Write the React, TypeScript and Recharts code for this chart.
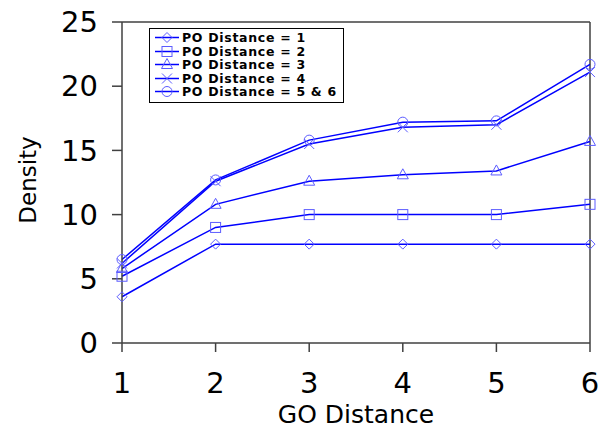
import React from 'react';
import {
  LineChart,
  Line,
  XAxis,
  YAxis,
  Legend,
  ReferenceLine,
} from 'recharts';

const goDistance = [1, 2, 3, 4, 5, 6];
const po1 = [3.6, 7.7, 7.7, 7.7, 7.7, 7.7];
const po2 = [5.2, 9.0, 10.0, 10.0, 10.0, 10.8];
const po3 = [5.8, 10.8, 12.6, 13.1, 13.4, 15.7];
const po4 = [6.2, 12.6, 15.5, 16.8, 17.0, 21.1];
const po56 = [6.5, 12.7, 15.8, 17.2, 17.3, 21.7];
const yTicks = [0, 5, 10, 15, 20, 25];

const seriesNames = [
  'PO Distance = 1',
  'PO Distance = 2',
  'PO Distance = 3',
  'PO Distance = 4',
  'PO Distance = 5 & 6',
];
const seriesKeys = ['po1', 'po2', 'po3', 'po4', 'po56'];
const shapes = ['diamond', 'square', 'triangle', 'cross', 'circle'];

const data = goDistance.map((go, i) => ({
  go,
  po1: po1[i],
  po2: po2[i],
  po3: po3[i],
  po4: po4[i],
  po56: po56[i],
}));

const LINE = '#0000ff';
const MARK = '#5c5cff';
const AXIS = '#404040';
const FONT = '"DejaVu Sans", sans-serif';

function Marker({ shape, cx, cy }: { shape: string; cx: number; cy: number }) {
  const p = { fill: 'none', stroke: MARK, strokeWidth: 1 };
  switch (shape) {
    case 'diamond':
      return <path d={`M${cx - 5},${cy} L${cx},${cy - 5} L${cx + 5},${cy} L${cx},${cy + 5} Z`} {...p} />;
    case 'square':
      return <rect x={cx - 5} y={cy - 5} width={10} height={10} {...p} />;
    case 'triangle':
      return <path d={`M${cx - 5.5},${cy + 4} L${cx},${cy - 6} L${cx + 5.5},${cy + 4} Z`} {...p} />;
    case 'cross':
      return <path d={`M${cx - 5},${cy - 5} L${cx + 5},${cy + 5} M${cx - 5},${cy + 5} L${cx + 5},${cy - 5}`} {...p} />;
    default:
      return <circle cx={cx} cy={cy} r={5} {...p} />;
  }
}

function makeDot(shape: string) {
  return (props: any) => (
    <Marker key={`${shape}-${props.index}`} shape={shape} cx={props.cx} cy={props.cy} />
  );
}

function LegendBox() {
  return (
    <div
      style={{
        border: '1.5px solid #000',
        background: '#fff',
        padding: '2px 6px 3px 4px',
        fontFamily: FONT,
        fontWeight: 'bold',
        fontSize: 12.5,
        lineHeight: '13.5px',
        letterSpacing: 0.7,
      }}
    >
      {seriesNames.map((name, i) => (
        <div key={name} style={{ display: 'flex', alignItems: 'center', whiteSpace: 'nowrap' }}>
          <svg width={26} height={13} style={{ marginRight: 2 }}>
            <line x1={1} y1={6.5} x2={25} y2={6.5} stroke={LINE} strokeWidth={1.5} />
            <Marker shape={shapes[i]} cx={13} cy={6.5} />
          </svg>
          <span>{name}</span>
        </div>
      ))}
    </div>
  );
}

function XLabel(props: any) {
  const { viewBox } = props;
  return (
    <text
      x={viewBox.x + viewBox.width / 2}
      y={423}
      textAnchor="middle"
      fontFamily={FONT}
      fontSize={25}
      fill="#000"
    >
      GO Distance
    </text>
  );
}

function YLabel() {
  return (
    <text
      x={36}
      y={180}
      transform="rotate(-90, 36, 180)"
      textAnchor="middle"
      fontFamily={FONT}
      fontSize={23}
      fill="#000"
    >
      Density
    </text>
  );
}

export default function App() {
  return (
    <div style={{ position: 'absolute', left: 0, top: 0, background: '#fff' }}>
      <LineChart
        width={601}
        height={430}
        data={data}
        margin={{ top: 22, right: 11, bottom: 0, left: 0 }}
      >
        <XAxis
          dataKey="go"
          type="number"
          domain={[1, 6]}
          ticks={goDistance}
          height={87}
          stroke={AXIS}
          strokeWidth={1.5}
          tickSize={9}
          tickMargin={20}
          tick={{ fill: '#000', fontSize: 29, fontFamily: FONT }}
          label={<XLabel />}
        />
        <YAxis
          domain={[0, 25]}
          ticks={yTicks}
          width={122}
          stroke={AXIS}
          strokeWidth={1.5}
          tickSize={10}
          tickMargin={14}
          tick={{ fill: '#000', fontSize: 29, fontFamily: FONT }}
          label={<YLabel />}
        />
        <ReferenceLine y={25} stroke={AXIS} strokeWidth={1.5} />
        <ReferenceLine x={6} stroke={AXIS} strokeWidth={1.5} />
        <Legend
          content={<LegendBox />}
          layout="vertical"
          align="center"
          verticalAlign="middle"
          wrapperStyle={{ left: 149, top: 28, width: 'auto' }}
        />
        {seriesKeys.map((key, i) => (
          <Line
            key={key}
            dataKey={key}
            name={seriesNames[i]}
            stroke={LINE}
            strokeWidth={1.5}
            dot={makeDot(shapes[i])}
            isAnimationActive={false}
          />
        ))}
      </LineChart>
    </div>
  );
}
